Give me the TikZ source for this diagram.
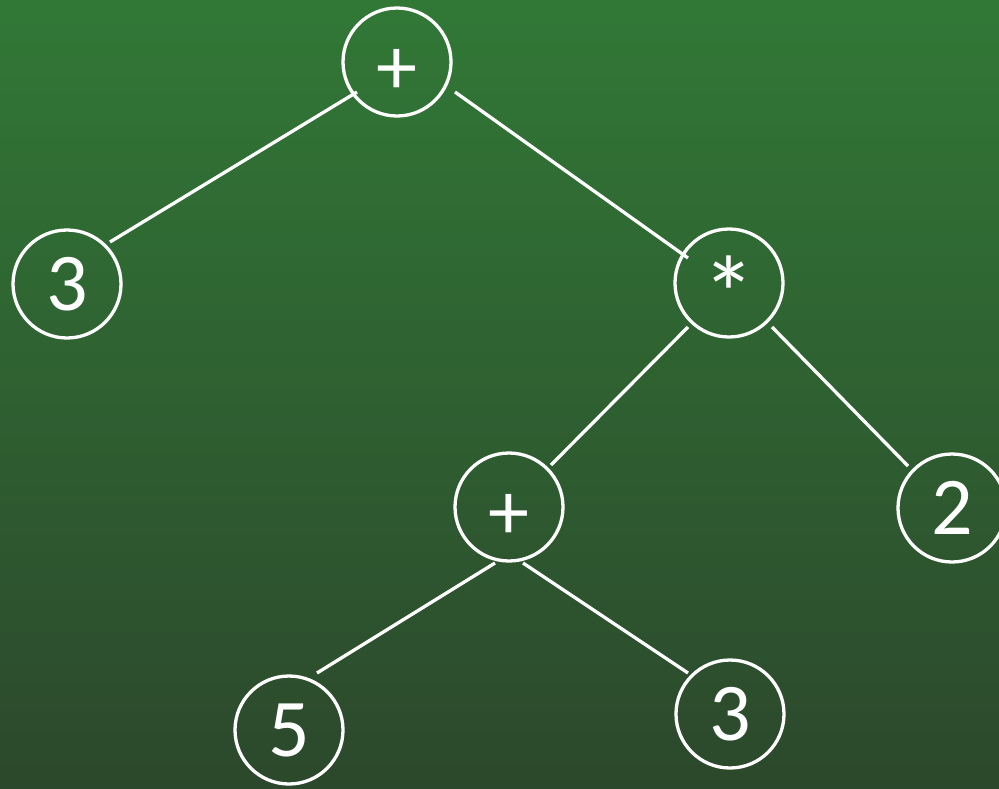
\documentclass[tikz,border=0pt]{standalone}
\usepackage{fontspec}
\setsansfont{Carlito}
\definecolor{bgtop}{RGB}{49,120,54}
\definecolor{bgbot}{RGB}{44,72,44}
\tikzset{
  tnode/.style={circle, draw=white, line width=3.3pt, minimum size=108pt, inner sep=0pt,
    text=white, text height=52pt, text depth=0pt, font=\sffamily\fontsize{82}{90}\selectfont},
  edge/.style={draw=white, line width=3.3pt}
}
\newcommand{\pluss}{\raisebox{-6pt}{+}}
\newcommand{\astt}{\raisebox{-22pt}{\scalebox{1.3}{*}}}
\begin{document}
\begin{tikzpicture}[x=1pt,y=-1pt]
\shade[top color=bgtop, bottom color=bgbot] (0,0) rectangle (999,788);
\useasboundingbox (0,0) rectangle (999,788);
\node[tnode] (r) at (397,62) {\pluss};
\node[tnode] (a) at (67,284) {3};
\node[tnode] (m) at (729,283) {\astt};
\node[tnode] (p) at (509,507) {\pluss};
\node[tnode] (b) at (952,508) {2};
\node[tnode] (c) at (289,730) {5};
\node[tnode] (d) at (730,714) {3};
\draw[edge] ([shift={(-40,30)}]r.center) -- ([shift={(43,-42)}]a.center);
\draw[edge] ([shift={(58,30)}]r.center) -- ([shift={(-41,-25)}]m.center);
\draw[edge] ([shift={(-41,44)}]m.center) -- ([shift={(42,-42)}]p.center);
\draw[edge] ([shift={(43,44)}]m.center) -- ([shift={(-44,-42)}]b.center);
\draw[edge] ([shift={(-14,56)}]p.center) -- ([shift={(28,-57)}]c.center);
\draw[edge] ([shift={(14,56)}]p.center) -- ([shift={(-42,-41)}]d.center);
\end{tikzpicture}
\end{document}
